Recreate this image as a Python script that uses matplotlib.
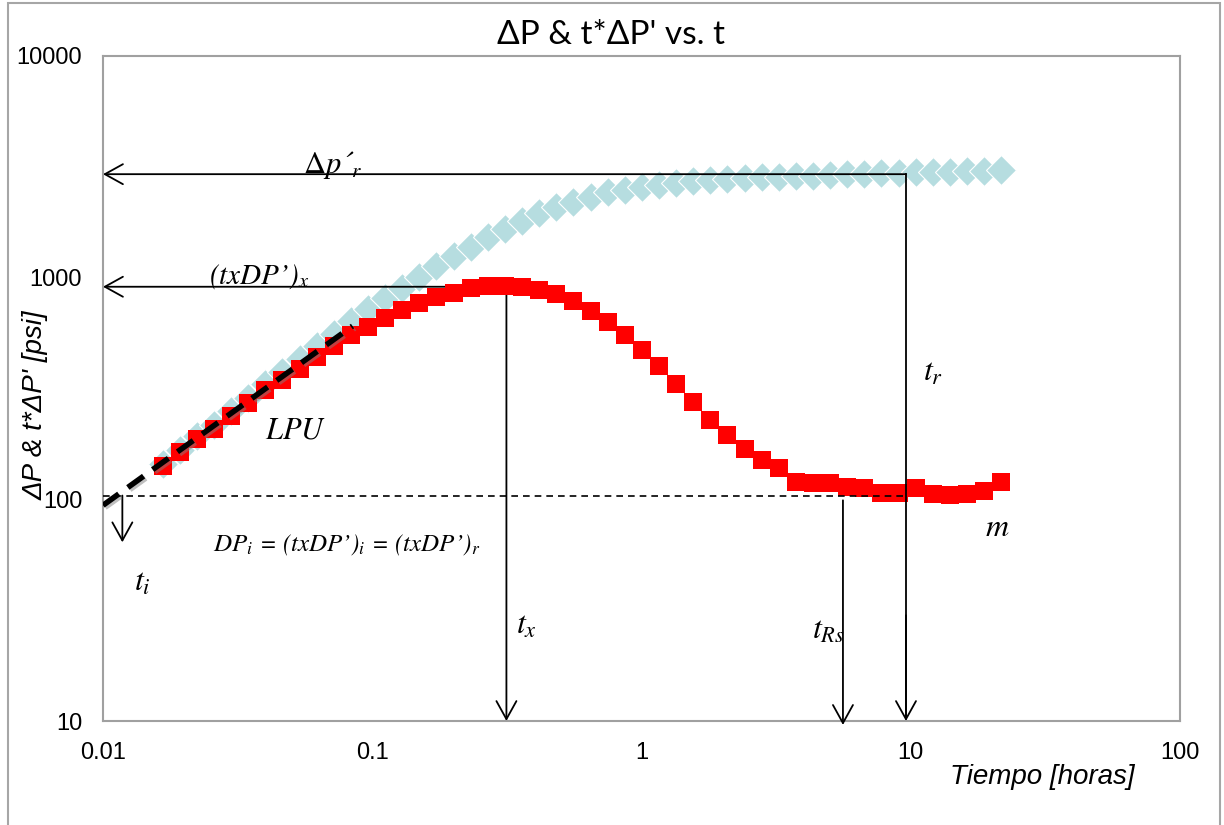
"""
Log-log plot of DP and t*DP' vs time with the TDS annotations
"""

import matplotlib

matplotlib.use("Agg")
import matplotlib.pyplot as plt
import matplotlib.patheffects as pe
from matplotlib.patches import Rectangle

plt.rcParams["mathtext.fontset"] = "stix"

# time [horas]
TIME = [
    0.01665, 0.01928, 0.02232, 0.02584, 0.02991, 0.03463, 0.04008, 0.04640,
    0.05372, 0.06219, 0.07199, 0.08334, 0.09644, 0.1116, 0.1292, 0.1496,
    0.1732, 0.2004, 0.2320, 0.2686, 0.3110, 0.3600, 0.4168, 0.4825,
    0.5585, 0.6466, 0.7485, 0.8664, 1.003, 1.161, 1.344, 1.556,
    1.801, 2.085, 2.414, 2.794, 3.234, 3.744, 4.335, 5.018,
    5.808, 6.724, 7.783, 9.010, 10.43, 12.07, 13.98, 16.18,
    18.73, 21.68,
]

# pressure drop DP [psi]
DELTA_P = [
    144, 167, 193, 216, 250, 286, 331, 375,
    430, 492, 557, 637, 722, 809, 900, 1009,
    1132, 1252, 1378, 1520, 1657, 1800, 1950, 2075,
    2200, 2317, 2428, 2484, 2570, 2616, 2680, 2728,
    2756, 2785, 2822, 2834, 2852, 2873, 2881, 2903,
    2924, 2933, 2955, 2973, 2985, 2995, 3004, 3017,
    3026, 3048,
]

# pressure derivative t*DP' [psi]
DERIV = [
    142, 164, 188, 207, 237, 271, 310, 346,
    388, 439, 492, 549, 599, 655, 718, 768,
    818, 857, 898, 917, 917, 907, 879, 846,
    782, 707, 631, 549, 473, 398, 331, 274,
    227, 195, 169, 150, 138, 120, 118, 119,
    114, 113, 107, 107, 112, 106, 105, 106,
    109, 120,
]

X_TICKS = [0.01, 0.1, 1, 10, 100]
X_TICK_LABELS = ["0.01", "0.1", "1", "10", "100"]
Y_TICKS = [10, 100, 1000, 10000]
Y_TICK_LABELS = ["10", "100", "1000", "10000"]

# characteristic points
T_X, DP_X = 0.315, 910
T_R, DP_R = 9.6, 2930
T_RS, DP_RS = 5.6, 99
T_I, DP_I, DP_I_END = 0.0118, 104, 64
LPU_T = [0.01, 0.0845]
LPU_P = [94, 605]

SERIF = ["STIXGeneral", "DejaVu Serif"]

ARROW = dict(
    arrowstyle="->,head_length=0.65,head_width=0.36",
    color="black",
    lw=1.3,
    shrinkA=0,
    shrinkB=0,
    mutation_scale=20,
)


def arrow(ax, start, end) -> None:
    """
    Draw an open-head arrow from start to end in data coordinates
    """
    ax.annotate("", xy=end, xytext=start, arrowprops=ARROW, annotation_clip=False)


def plot_pressure_derivative() -> None:
    """
    Function to plot the pressure and the pressure derivative
    """

    fig = plt.figure(figsize=(12.24, 8.25), dpi=100)
    ax = fig.add_axes([103 / 1224, 1 - 721 / 825, 1077 / 1224, 665 / 825])

    # the two series
    ax.plot(
        TIME, DELTA_P, linestyle="none", marker="D", markersize=15.5,
        markerfacecolor="#B6DDE0", markeredgecolor="white", markeredgewidth=0.8,
        zorder=3,
    )
    ax.plot(
        TIME, DERIV, linestyle="none", marker="s", markersize=12.5,
        markerfacecolor="#FF0000", markeredgewidth=0, zorder=4,
    )

    ax.set_xscale("log")
    ax.set_yscale("log")
    ax.set_xlim(0.01, 100)
    ax.set_ylim(10, 10000)
    ax.minorticks_off()
    ax.set_xticks(X_TICKS)
    ax.set_xticklabels(X_TICK_LABELS)
    ax.set_yticks(Y_TICKS)
    ax.set_yticklabels(Y_TICK_LABELS)
    ax.tick_params(length=0, labelsize=17, pad=15)
    for label in ax.get_xticklabels() + ax.get_yticklabels():
        label.set_fontfamily("Liberation Sans")

    for spine in ax.spines.values():
        spine.set_color("#A0A0A0")
        spine.set_linewidth(1.5)

    # unit slope line with a soft shadow
    ax.plot(
        LPU_T, LPU_P, color="black", lw=4, dashes=(3.5, 2), zorder=6,
        solid_capstyle="butt",
        path_effects=[
            pe.SimpleLineShadow(offset=(1.5, -1.5), shadow_color="gray", alpha=0.5),
            pe.Normal(),
        ],
    )

    # dashed radial flow level
    ax.plot([0.01, T_R], [DP_I, DP_I], color="black", lw=1.2, dashes=(4, 3), zorder=5)

    # arrows
    arrow(ax, (T_R, DP_R), (0.01, DP_R))
    ax.plot([T_R, T_R], [DP_R, 10.5], color="black", lw=1.3, zorder=5)
    arrow(ax, (T_R, 30), (T_R, 10))
    arrow(ax, (T_X, DP_X), (0.01, DP_X))
    arrow(ax, (T_X, DP_X), (T_X, 10))
    arrow(ax, (T_RS, DP_RS), (T_RS, 9.6))
    arrow(ax, (T_I, DP_I), (T_I, DP_I_END))

    # labels of the characteristic points
    ax.text(0.0552, DP_R * 1.01, r"$\Delta p$´$_r$", fontsize=22, va="baseline",
            family=SERIF, style="italic")
    ax.text(0.0247, DP_X * 1.03, "(txDP’)$_x$", fontsize=21, va="baseline",
            family=SERIF, style="italic")
    ax.text(0.341, 27.1, r"$t_x$", fontsize=23, va="center")
    ax.text(4.31, 25.7, r"$t_{Rs}$", fontsize=23, va="center")
    ax.text(11.1, 375, r"$t_r$", fontsize=23, va="center")
    ax.text(0.0130, 42.4, r"$t_i$", fontsize=23, va="center")
    ax.text(0.0399, 205, r"$LPU$", fontsize=22, va="center")
    ax.text(18.9, 75, r"$m$", fontsize=23, va="center")
    ax.text(
        0.0256, 62.2, "DP$_i$ = (txDP’)$_i$ = (txDP’)$_r$", fontsize=18,
        va="center", family=SERIF, style="italic",
    )

    # titles
    fig.text(
        611 / 1224, 1 - 35 / 825, "ΔP & t*ΔP' vs. t", fontsize=24,
        family=["Lato", "Open Sans", "DejaVu Sans"], ha="center", va="center",
    )
    fig.text(
        1042 / 1224, 1 - 777 / 825, "Tiempo [horas]", fontsize=20,
        family="Liberation Sans", style="italic", ha="center", va="center",
    )
    fig.text(
        36 / 1224, 1 - 405 / 825, "ΔP & t*ΔP' [psi]", fontsize=20,
        family="Liberation Sans", style="italic", rotation=90,
        ha="center", va="center",
    )

    # outer chart frame
    fig.patches.append(
        Rectangle(
            (8 / 1224, -0.05), 1212 / 1224, 1.05 - 3 / 825, transform=fig.transFigure,
            fill=False, edgecolor="#A6A6A6", linewidth=1.5,
        )
    )

    fig.savefig("out.png", dpi=100)


if __name__ == "__main__":
    plot_pressure_derivative()
